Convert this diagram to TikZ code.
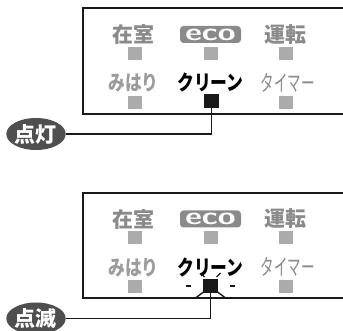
\documentclass[tikz,border=0pt]{standalone}
\usepackage{fontspec}
\newfontfamily\jp{Noto Sans CJK JP}
\usepackage{tikz}
\usetikzlibrary{shapes.geometric,positioning,calc}
\definecolor{lampgray}{HTML}{ABABAB}
\definecolor{textgray}{HTML}{8A8A8A}
\definecolor{badgegray}{HTML}{4F4F4F}
\newcommand\PanelShift{184.5}
\newcommand\Narrow[1]{\scalebox{0.8}[1]{#1}}
\tikzset{
  lamp/.style={
    inner sep = 0pt,
    shape = rectangle,
    minimum width = 14pt,
    minimum height = 13pt,
    fill = lampgray
  },
  lampon/.style={
    inner sep = 0pt,
    shape = rectangle,
    minimum width = 15pt,
    minimum height = 14pt,
    fill = black!90
  },
  toplabel/.style={
    font = \jp\bfseries\fontsize{21}{21}\selectfont,
    text = textgray,
    inner sep = 0pt
  },
  lowlabel/.style={
    font = \jp\bfseries\fontsize{21}{21}\selectfont,
    text = textgray!85,
    inner sep = 0pt
  },
  ecologo/.style={
    shape = rectangle,
    rounded corners = 3.5pt,
    fill = textgray,
    text = white,
    minimum width = 61pt,
    minimum height = 17pt,
    inner sep = 0pt,
    font = \sffamily\bfseries\fontsize{24}{24}\selectfont
  },
  badge/.style={
    shape = ellipse,
    fill = badgegray,
    text = white,
    minimum width = 58pt,
    minimum height = 32pt,
    inner sep = 0pt,
    font = \jp\bfseries\fontsize{21}{21}\selectfont
  },
  panel/.style={
    line width = 2pt,
    draw = black!90
  },
  wire/.style={
    line width = 1.5pt,
    draw = black!90
  },
  ray/.style={
    line width = 1.4pt,
    draw = black!90
  }
}
\begin{document}
\begin{tikzpicture}[x=1pt,y=-1pt]
  \useasboundingbox (0,0) rectangle (343,331);
  \clip (0,0) rectangle (343,331);

  % lit lamp
  \draw[panel] (83,8.5) rectangle (360,114);
  \node[toplabel] (zaiA) at (133.5,34.5) {在室};
  \node[ecologo] (ecoA) at (210.5,34.5) {\scalebox{1.35}[1]{eco}};
  \node[toplabel] (untenA) at (285,34.5) {運転};
  \node[lamp] (zaiLampA) at (134.5,53.5) {};
  \node[lamp] (ecoLampA) at (210.5,53.5) {};
  \node[lamp] (untenLampA) at (285.5,53.5) {};
  \node[lowlabel] (mihariA) at (133.5,83) {\Narrow{みはり}};
  \node[lowlabel, text = black] (cleanA) at (210.5,83) {\Narrow{クリーン}};
  \node[lowlabel, text = textgray, font = \jp\fontsize{22.5}{22.5}\selectfont] (timerA) at (287.5,82.5) {\scalebox{0.6}[1]{タイマー}};
  \node[lamp] (mihariLampA) at (134.5,102.5) {};
  \node[lampon] (cleanLampA) at (211.5,101) {};
  \node[lamp] (timerLampA) at (285.5,102.5) {};
  \node[badge] (onA) at (36,134) {点灯};
  \draw[wire] (cleanLampA.south) |- (onA.east);

  % blinking lamp
  \begin{scope}[yshift=-\PanelShift pt]
  \draw[panel] (83,8.5) rectangle (360,114);
  \node[toplabel] (zaiB) at (133.5,34.5) {在室};
  \node[ecologo] (ecoB) at (210.5,34.5) {\scalebox{1.35}[1]{eco}};
  \node[toplabel] (untenB) at (285,34.5) {運転};
  \node[lamp] (zaiLampB) at (134.5,53.5) {};
  \node[lamp] (ecoLampB) at (210.5,53.5) {};
  \node[lamp] (untenLampB) at (285.5,53.5) {};
  \node[lowlabel] (mihariB) at (133.5,83) {\Narrow{みはり}};
  \node[lowlabel, text = black] (cleanB) at (210.5,83) {\Narrow{クリーン}};
  \node[lowlabel, text = textgray, font = \jp\fontsize{22.5}{22.5}\selectfont] (timerB) at (287.5,82.5) {\scalebox{0.6}[1]{タイマー}};
  \node[lamp] (mihariLampB) at (134.5,102.5) {};
  \node[lampon] (cleanLampB) at (210.5,101.5) {};
  \node[lamp] (timerLampB) at (285.5,102.5) {};
  \node[badge] (onB) at (36,134) {点滅};
  \draw[wire] (cleanLampB.south) |- (onB.east);
  % flashes
  \draw[ray] ([xshift=-12pt]cleanLampB.west) -- ([xshift=-17pt]cleanLampB.west);
  \draw[ray] ([xshift=12pt]cleanLampB.east) -- ([xshift=17pt]cleanLampB.east);
  \draw[ray] ($(cleanLampB)+(-7,6)$) -- ++(-8,6);
  \draw[ray] ($(cleanLampB)+(7,6)$) -- ++(8,6);
  \draw[ray] ($(cleanLampB)+(-6,-9)$) -- ++(-4,-4);
  \draw[ray] ($(cleanLampB)+(6,-9)$) -- ++(4,-4);
  \end{scope}
\end{tikzpicture}
\end{document}
